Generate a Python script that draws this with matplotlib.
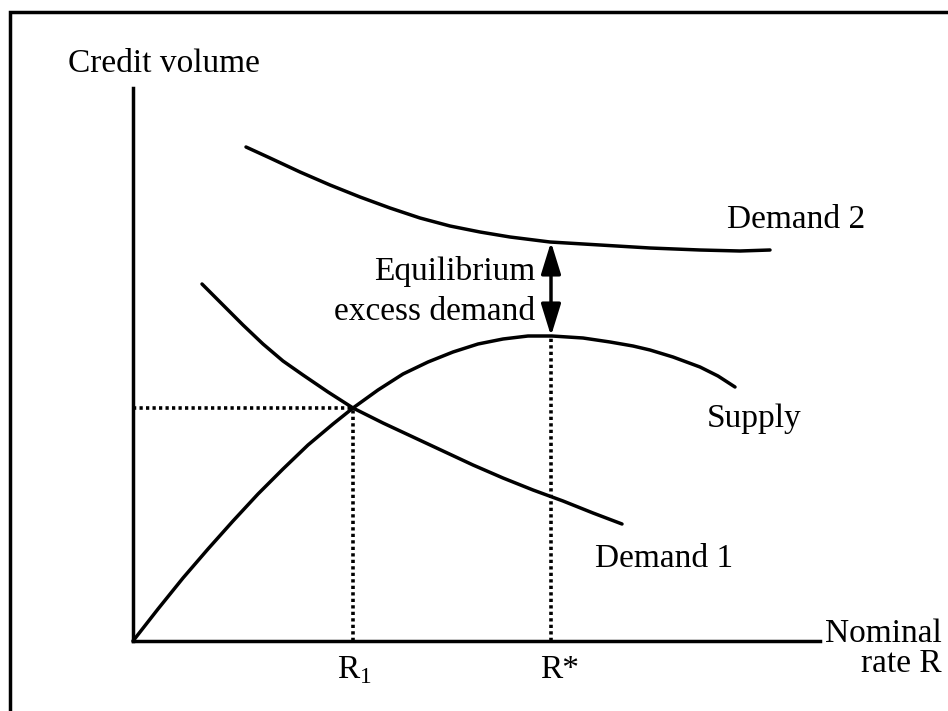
import matplotlib
matplotlib.use("Agg")
import matplotlib.pyplot as plt

plt.rcParams['font.family'] = ['Liberation Serif', 'DejaVu Serif']
plt.rcParams['mathtext.fontset'] = 'custom'
plt.rcParams['mathtext.rm'] = 'Liberation Serif'

# curve points, origin at the axes corner (x = nominal rate, y = credit volume)
demand2_x = [113, 137, 167, 197, 227, 257, 287, 317, 347, 377, 417, 467, 517, 567, 607, 637]
demand2_y = [494, 483, 469, 456, 444, 433, 423, 415, 409, 404, 399, 396, 393, 391, 390, 391]

demand1_x = [69, 90, 110, 130, 150, 170, 195, 220, 250, 280, 310, 340, 370, 400, 430, 460, 489]
demand1_y = [357, 336, 316, 297, 280, 266, 249, 233, 218, 204, 190, 176, 163, 151, 140, 128, 117]

supply_x = [0, 25, 50, 75, 100, 125, 150, 175, 200, 220, 245, 270, 295, 320, 345, 370, 395,
            419, 450, 477, 500, 517, 540, 567, 585, 602]
supply_y = [0, 32, 63, 92, 120, 147, 172, 196, 217, 233, 251, 267, 279, 289, 297, 302, 305,
            305, 303, 299, 295, 291, 284, 274, 265, 254]

r1, q1 = 220, 233          # Demand 1 / Supply crossing
r_star = 418
supply_peak, demand2_at_rstar = 305, 399
x_axis_end, y_axis_end = 687, 553

fig = plt.figure(figsize=(9.48, 7.11), dpi=100)
ax = fig.add_axes([0, 0, 1, 1])
ax.set_xlim(-133, 815)
ax.set_ylim(-70, 641)
ax.axis('off')

lw = 2.5
# frame (only left and top edges fall inside the picture)
ax.plot([-122.5, -122.5, 830], [-80, 629.5, 629.5], color='black', lw=2.5,
        solid_joinstyle='miter')

# axes
ax.plot([0, 0], [0, y_axis_end], color='black', lw=lw)
ax.plot([0, x_axis_end], [0, 0], color='black', lw=lw)

# curves
ax.plot(demand2_x, demand2_y, color='black', lw=lw, solid_capstyle='round')
ax.plot(demand1_x, demand1_y, color='black', lw=lw, solid_capstyle='round')
ax.plot(supply_x, supply_y, color='black', lw=lw, solid_capstyle='round')

# dotted guides
dot = (0, (0.9, 0.9))
ax.plot([0, r1], [q1, q1], color='black', lw=2.6, linestyle=dot)
ax.plot([r1, r1], [0, q1], color='black', lw=2.6, linestyle=dot)
ax.plot([r_star, r_star], [0, supply_peak], color='black', lw=2.6, linestyle=dot)

# excess demand arrow
ax.annotate('', xy=(r_star, demand2_at_rstar), xytext=(r_star, supply_peak),
            arrowprops=dict(arrowstyle='<|-|>,head_length=0.97,head_width=0.3',
                            mutation_scale=20, color='black', lw=lw,
                            shrinkA=0, shrinkB=0))

fs = 24
ax.text(-65, 569.5, 'Credit volume', fontsize=fs, ha='left', va='baseline')
ax.text(402, 361, 'Equilibrium', fontsize=fs, ha='right', va='baseline')
ax.text(402, 321, 'excess demand', fontsize=fs, ha='right', va='baseline')
ax.text(594, 413, 'Demand 2', fontsize=fs, ha='left', va='baseline')
ax.text(574, 214, 'Supply', fontsize=fs, ha='left', va='baseline')
ax.text(462, 74, 'Demand 1', fontsize=fs, ha='left', va='baseline')
ax.text(204, -37, r'$\mathrm{R}_1$', fontsize=fs, ha='left', va='baseline')
ax.text(407, -37, 'R*', fontsize=fs, ha='left', va='baseline')
ax.text(809, -1, 'Nominal', fontsize=fs, ha='right', va='baseline')
ax.text(809, -31, 'rate R', fontsize=fs, ha='right', va='baseline')

fig.savefig('out.png', dpi=100)
